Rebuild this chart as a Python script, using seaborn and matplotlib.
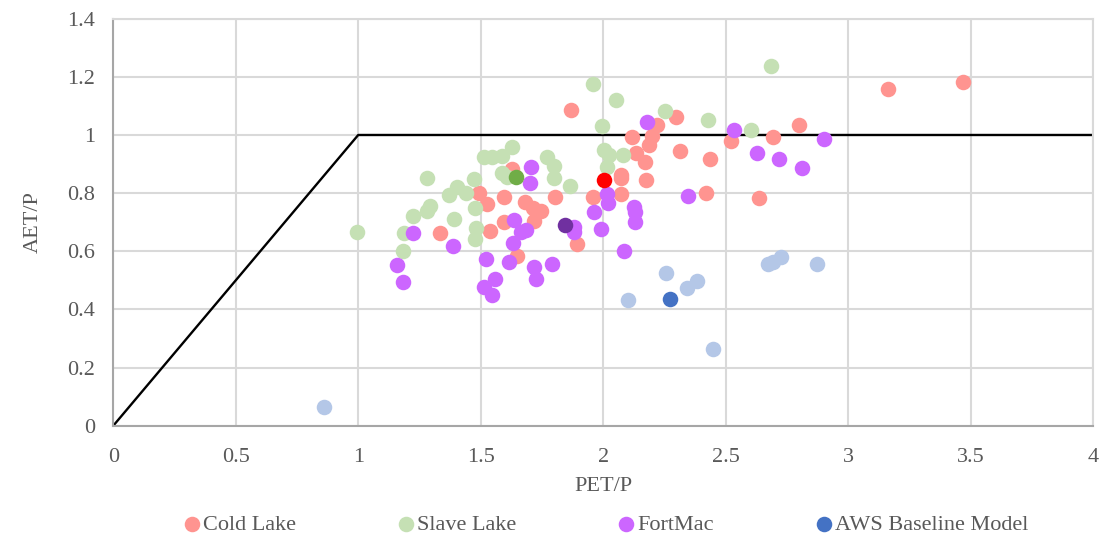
import matplotlib
matplotlib.use("Agg")
import matplotlib.pyplot as plt
import seaborn as sns

# PET/P and AET/P ratios per site
cold_pet = [1.870, 3.162, 3.468, 2.297, 2.116, 2.218, 2.200, 2.189, 2.136, 2.170,
            2.312, 2.437, 2.523, 2.693, 2.799, 2.074, 2.074, 2.175, 1.959, 2.071,
            1.803, 2.422, 2.635, 1.893, 1.628, 1.492, 1.526, 1.594, 1.680, 1.715,
            1.746, 1.716, 1.594, 1.539, 1.332, 1.649]
cold_aet = [1.086, 1.158, 1.182, 1.062, 0.993, 1.033, 0.997, 0.966, 0.937, 0.907,
            0.944, 0.917, 0.978, 0.992, 1.034, 0.862, 0.851, 0.845, 0.788, 0.796,
            0.788, 0.802, 0.782, 0.625, 0.883, 0.799, 0.764, 0.788, 0.771, 0.748,
            0.740, 0.704, 0.702, 0.670, 0.662, 0.584]

slave_pet = [2.684, 1.958, 2.054, 2.252, 2.427, 2.602, 1.997, 2.002, 2.023, 2.080,
             2.015, 1.864, 1.798, 1.798, 1.771, 1.628, 1.587, 1.548, 1.512, 1.587,
             1.609, 1.471, 1.280, 1.403, 1.372, 1.441, 1.294, 1.280, 1.225, 1.478,
             1.392, 1.482, 1.478, 1.185, 1.184, 0.997]
slave_aet = [1.237, 1.174, 1.120, 1.083, 1.051, 1.016, 1.032, 0.948, 0.931, 0.931,
             0.891, 0.825, 0.895, 0.852, 0.923, 0.960, 0.929, 0.925, 0.924, 0.868,
             0.854, 0.850, 0.851, 0.821, 0.792, 0.799, 0.756, 0.740, 0.722, 0.748,
             0.710, 0.679, 0.642, 0.662, 0.602, 0.666]

fort_pet = [2.180, 2.533, 2.900, 2.627, 2.720, 2.810, 2.345, 1.704, 1.700, 2.016,
            2.018, 1.962, 2.128, 2.132, 2.129, 1.992, 1.880, 1.883, 2.084, 1.792,
            1.638, 1.664, 1.685, 1.631, 1.523, 1.614, 1.557, 1.512, 1.546, 1.718,
            1.726, 1.385, 1.223, 1.158, 1.181]
fort_aet = [1.045, 1.017, 0.986, 0.937, 0.918, 0.888, 0.791, 0.889, 0.836, 0.797,
            0.765, 0.736, 0.753, 0.736, 0.701, 0.677, 0.685, 0.667, 0.601, 0.556,
            0.709, 0.667, 0.672, 0.627, 0.573, 0.563, 0.504, 0.478, 0.449, 0.547,
            0.504, 0.619, 0.662, 0.554, 0.495]

aws_pet = [0.862, 2.102, 2.255, 2.344, 2.384, 2.447, 2.672, 2.693, 2.725, 2.874]
aws_aet = [0.063, 0.433, 0.526, 0.475, 0.499, 0.265, 0.556, 0.563, 0.580, 0.556]

# Baseline model runs for each site
base_sites = ["Cold Lake", "Slave Lake", "FortMac", "AWS Baseline Model"]
base_pet = [2.005, 1.645, 1.845, 2.271]
base_aet = [0.845, 0.855, 0.690, 0.437]

# Energy / water limit envelope
limit_pet = [0, 1, 4]
limit_aet = [0, 1, 1]

x_ticks = [0, 0.5, 1, 1.5, 2, 2.5, 3, 3.5, 4]
x_tick_labels = ["0", "0.5", "1", "1.5", "2", "2.5", "3", "3.5", "4"]
y_ticks = [0, 0.2, 0.4, 0.6, 0.8, 1.0, 1.2, 1.4]
y_tick_labels = ["0", "0.2", "0.4", "0.6", "0.8", "1", "1.2", "1.4"]

sns.set_style("white")
plt.rcParams["font.family"] = ["Liberation Serif", "DejaVu Serif"]

fig = plt.figure(figsize=(11.01, 5.39), dpi=100)
ax = fig.add_axes([0.1029, 0.2102, 0.8898, 0.7551])

grid_col = "#D9D9D9"
text_col = "#595959"
msize = 125
fs = 16

sns.lineplot(x=limit_pet, y=limit_aet, ax=ax, color="black", linewidth=1.7,
             sort=False, zorder=2)

series = [
    (cold_pet, cold_aet, "#FF9490", "Cold Lake"),
    (slave_pet, slave_aet, "#C5E0B4", "Slave Lake"),
    (fort_pet, fort_aet, "#CC66FF", "FortMac"),
    (aws_pet, aws_aet, "#B4C7E7", None),
]
for px, py, col, lab in series:
    sns.scatterplot(x=px, y=py, ax=ax, color=col, s=msize, linewidth=0,
                    label=lab, zorder=3)

base_cols = ["#FF0000", "#70AD47", "#7030A0", "#4472C4"]
for site, bx, by, col in zip(base_sites, base_pet, base_aet, base_cols):
    sns.scatterplot(x=[bx], y=[by], ax=ax, color=col, s=msize, linewidth=0,
                    label=site if site == "AWS Baseline Model" else None, zorder=4)

ax.set_xlim(0, 4)
ax.set_ylim(0, 1.4)
ax.set_xticks(x_ticks)
ax.set_xticklabels(x_tick_labels)
ax.set_yticks(y_ticks)
ax.set_yticklabels(y_tick_labels)
ax.tick_params(axis="both", length=0, labelsize=fs, labelcolor=text_col)
ax.tick_params(axis="x", pad=16)
ax.tick_params(axis="y", pad=13)
ax.grid(True, color=grid_col, linewidth=1.5)
ax.set_axisbelow(True)

for side in ["top", "right"]:
    ax.spines[side].set_color(grid_col)
    ax.spines[side].set_linewidth(1.5)
for side in ["left", "bottom"]:
    ax.spines[side].set_color("#A6A6A6")
    ax.spines[side].set_linewidth(1.5)

ax.set_xlabel("PET/P", fontsize=fs, color=text_col, labelpad=7)
ax.set_ylabel("AET/P", fontsize=fs, color=text_col, labelpad=18)

handles, labels = ax.get_legend_handles_labels()
leg = ax.legend(handles, labels, loc="center", bbox_to_anchor=(0.503, -0.244),
                ncol=4, frameon=False, fontsize=fs, handletextpad=0.15,
                columnspacing=4.6, markerscale=1.0, handlelength=0.7,
                borderpad=0, borderaxespad=0)
for t in leg.get_texts():
    t.set_color(text_col)

fig.savefig("out.png", dpi=100)
